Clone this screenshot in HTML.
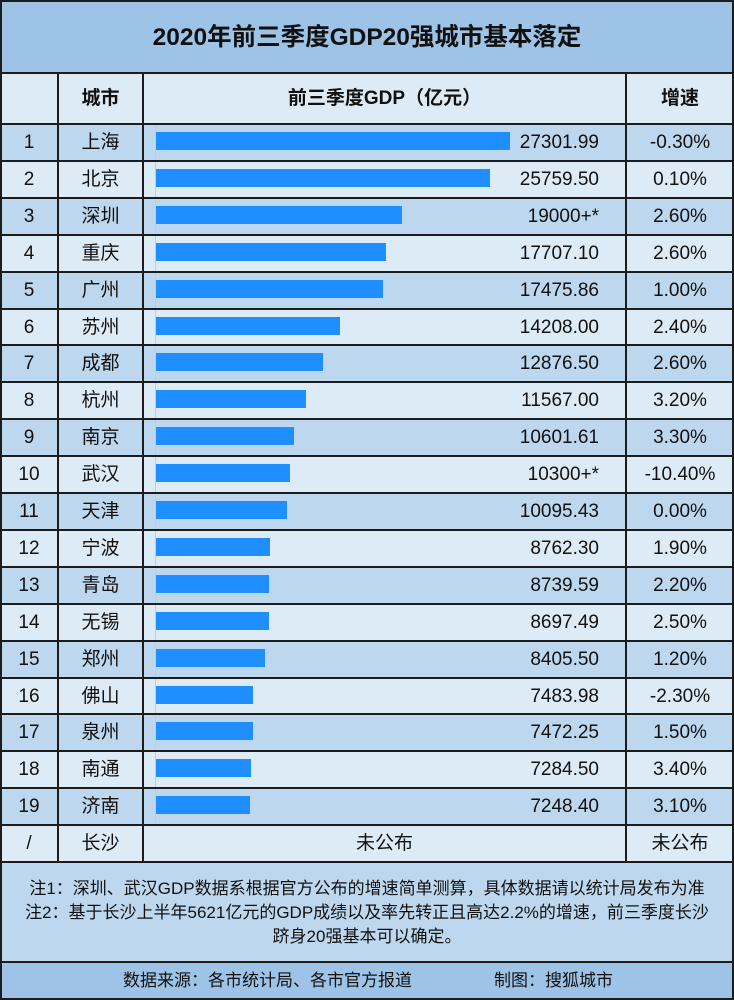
<!DOCTYPE html>
<html><head><meta charset="utf-8">
<style>
*{margin:0;padding:0;box-sizing:border-box}
html,body{width:734px;height:1000px;background:#fff;overflow:hidden}
body{position:relative;font-family:"Liberation Sans","Noto Sans CJK SC",sans-serif;color:#111}
.a{position:absolute}
.title{left:0;top:0;width:734px;height:74px;background:#9dc3e6;text-align:center;font-weight:bold;font-size:24.5px;line-height:76px;white-space:nowrap}
.hdr{left:0;top:73px;width:734px;height:51px;background:#ddebf7;font-weight:bold;font-size:19px;line-height:52px}
.r{position:absolute;left:0;width:734px;height:36.9px;font-size:19px;line-height:37px;white-space:nowrap}
.o{background:#bdd7ee}
.e{background:#ddebf7}
.c1{position:absolute;left:0;width:58px;text-align:center;top:0}
.c2{position:absolute;left:58px;width:85px;text-align:center;top:0}
.c3{position:absolute;left:143px;width:483px;text-align:center;top:0}
.v{position:absolute;left:143px;width:456px;text-align:right;top:0}
.p{position:absolute;left:626px;width:108px;text-align:center;top:0}
.b{position:absolute;left:156px;top:8px;height:18px;background:#1f8fff}
.ax{position:absolute;left:155px;top:0;width:1px;height:36.9px;background:#c4ccd6}
.hl{position:absolute;left:0;width:734px;height:2px;background:#1c1c1c}
.vl{position:absolute;width:2px;background:#1c1c1c;top:73px;height:789px}
.notes{left:0;top:862px;width:734px;height:100px;background:#bdd7ee}
.nt{left:0;top:877px;width:734px;text-align:center;font-size:17px;line-height:24px;white-space:nowrap}
.foot{left:0;top:962px;width:734px;height:38px;background:#9dc3e6;font-size:17px;line-height:37px;white-space:nowrap}
.frame{left:0;top:0;width:734px;height:1000px;border:2px solid #1c1c1c}
</style></head><body>
<div class="a title">2020年前三季度GDP20强城市基本落定</div>
<div class="a hdr">
<div class="c2">城市</div>
<div class="c3">前三季度GDP（亿元）</div>
<div class="p">增速</div>
</div>

<div class="r o" style="top:124px"><div class="ax"></div><div class="c1">1</div><div class="c2">上海</div><div class="b" style="width:354px"></div><div class="v">27301.99</div><div class="p">-0.30%</div></div>
<div class="r e" style="top:160.9px"><div class="ax"></div><div class="c1">2</div><div class="c2">北京</div><div class="b" style="width:334px"></div><div class="v">25759.50</div><div class="p">0.10%</div></div>
<div class="r o" style="top:197.8px"><div class="ax"></div><div class="c1">3</div><div class="c2">深圳</div><div class="b" style="width:246.4px"></div><div class="v">19000+*</div><div class="p">2.60%</div></div>
<div class="r e" style="top:234.7px"><div class="ax"></div><div class="c1">4</div><div class="c2">重庆</div><div class="b" style="width:229.6px"></div><div class="v">17707.10</div><div class="p">2.60%</div></div>
<div class="r o" style="top:271.6px"><div class="ax"></div><div class="c1">5</div><div class="c2">广州</div><div class="b" style="width:226.6px"></div><div class="v">17475.86</div><div class="p">1.00%</div></div>
<div class="r e" style="top:308.5px"><div class="ax"></div><div class="c1">6</div><div class="c2">苏州</div><div class="b" style="width:184.2px"></div><div class="v">14208.00</div><div class="p">2.40%</div></div>
<div class="r o" style="top:345.4px"><div class="ax"></div><div class="c1">7</div><div class="c2">成都</div><div class="b" style="width:167px"></div><div class="v">12876.50</div><div class="p">2.60%</div></div>
<div class="r e" style="top:382.3px"><div class="ax"></div><div class="c1">8</div><div class="c2">杭州</div><div class="b" style="width:150px"></div><div class="v">11567.00</div><div class="p">3.20%</div></div>
<div class="r o" style="top:419.2px"><div class="ax"></div><div class="c1">9</div><div class="c2">南京</div><div class="b" style="width:137.5px"></div><div class="v">10601.61</div><div class="p">3.30%</div></div>
<div class="r e" style="top:456.1px"><div class="ax"></div><div class="c1">10</div><div class="c2">武汉</div><div class="b" style="width:133.6px"></div><div class="v">10300+*</div><div class="p">-10.40%</div></div>
<div class="r o" style="top:493px"><div class="ax"></div><div class="c1">11</div><div class="c2">天津</div><div class="b" style="width:130.9px"></div><div class="v">10095.43</div><div class="p">0.00%</div></div>
<div class="r e" style="top:529.9px"><div class="ax"></div><div class="c1">12</div><div class="c2">宁波</div><div class="b" style="width:113.6px"></div><div class="v">8762.30</div><div class="p">1.90%</div></div>
<div class="r o" style="top:566.8px"><div class="ax"></div><div class="c1">13</div><div class="c2">青岛</div><div class="b" style="width:113.3px"></div><div class="v">8739.59</div><div class="p">2.20%</div></div>
<div class="r e" style="top:603.7px"><div class="ax"></div><div class="c1">14</div><div class="c2">无锡</div><div class="b" style="width:112.8px"></div><div class="v">8697.49</div><div class="p">2.50%</div></div>
<div class="r o" style="top:640.6px"><div class="ax"></div><div class="c1">15</div><div class="c2">郑州</div><div class="b" style="width:109px"></div><div class="v">8405.50</div><div class="p">1.20%</div></div>
<div class="r e" style="top:677.5px"><div class="ax"></div><div class="c1">16</div><div class="c2">佛山</div><div class="b" style="width:97px"></div><div class="v">7483.98</div><div class="p">-2.30%</div></div>
<div class="r o" style="top:714.4px"><div class="ax"></div><div class="c1">17</div><div class="c2">泉州</div><div class="b" style="width:96.9px"></div><div class="v">7472.25</div><div class="p">1.50%</div></div>
<div class="r e" style="top:751.3px"><div class="ax"></div><div class="c1">18</div><div class="c2">南通</div><div class="b" style="width:94.5px"></div><div class="v">7284.50</div><div class="p">3.40%</div></div>
<div class="r o" style="top:788.2px"><div class="ax"></div><div class="c1">19</div><div class="c2">济南</div><div class="b" style="width:94px"></div><div class="v">7248.40</div><div class="p">3.10%</div></div>
<div class="r e" style="top:825.1px"><div class="c1">/</div><div class="c2">长沙</div><div class="c3">未公布</div><div class="p">未公布</div></div>

<div class="a notes"></div>
<div class="a nt">注1：深圳、武汉GDP数据系根据官方公布的增速简单测算，具体数据请以统计局发布为准<br>注2：基于长沙上半年5621亿元的GDP成绩以及率先转正且高达2.2%的增速，前三季度长沙<br>跻身20强基本可以确定。</div>

<div class="a foot"><span class="a" style="left:123px;top:0">数据来源：各市统计局、各市官方报道</span><span class="a" style="left:494px;top:0">制图：搜狐城市</span></div>

<div class="hl" style="top:72px"></div>
<div class="hl" style="top:123px"></div>
<div class="hl" style="top:159.9px"></div>
<div class="hl" style="top:196.8px"></div>
<div class="hl" style="top:233.7px"></div>
<div class="hl" style="top:270.6px"></div>
<div class="hl" style="top:307.5px"></div>
<div class="hl" style="top:344.4px"></div>
<div class="hl" style="top:381.3px"></div>
<div class="hl" style="top:418.2px"></div>
<div class="hl" style="top:455.1px"></div>
<div class="hl" style="top:492px"></div>
<div class="hl" style="top:528.9px"></div>
<div class="hl" style="top:565.8px"></div>
<div class="hl" style="top:602.7px"></div>
<div class="hl" style="top:639.6px"></div>
<div class="hl" style="top:676.5px"></div>
<div class="hl" style="top:713.4px"></div>
<div class="hl" style="top:750.3px"></div>
<div class="hl" style="top:787.2px"></div>
<div class="hl" style="top:824.1px"></div>
<div class="hl" style="top:861px"></div>
<div class="hl" style="top:961px"></div>

<div class="vl" style="left:57px"></div>
<div class="vl" style="left:142px"></div>
<div class="vl" style="left:625px"></div>

<div class="a frame"></div>
</body></html>
